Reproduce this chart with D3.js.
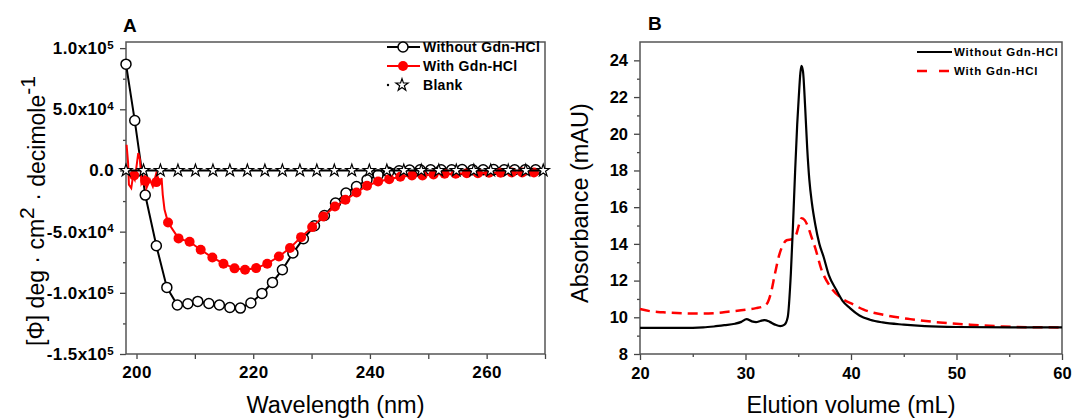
<!DOCTYPE html>
<html>
<head>
<meta charset="utf-8">
<script src="https://cdn.jsdelivr.net/npm/d3@7"></script>
<style>
  html, body { margin: 0; padding: 0; background: #fff; }
  svg { display: block; font-family: "Liberation Sans", Arial, sans-serif; }
  .tick text { font-weight: bold; font-size: 16.5px; fill: #000; }
  .cd .tick text { font-size: 17px; letter-spacing: 0.4px; }
  .domain { display: none; }
  .tick line { stroke: #444; stroke-width: 1.3; }
</style>
</head>
<body>
<svg id="chart" width="1073" height="419"></svg>
<script>
// ---------- Panel A: far-UV CD spectra ----------
const cdWithoutWl = [198.2, 199.7, 201.5, 203.4, 205.2, 207.0, 208.8, 210.5, 212.4, 214.2, 216.0, 217.8, 219.6, 221.5, 223.3, 225.0, 226.8, 228.6, 230.5, 232.2, 234.1, 235.9, 237.7, 239.5, 241.4, 243.2, 245.0, 246.8, 248.6, 250.4, 252.2, 254.0, 255.8, 257.6, 259.4, 261.2, 263.0, 264.8, 266.6, 268.4];
const cdWithoutVal = [86900, 40800, -20100, -61500, -95600, -110000, -108900, -107000, -108700, -110000, -112000, -112500, -108300, -100500, -91500, -81100, -67500, -55800, -45200, -36800, -26600, -18500, -13100, -7600, -3800, -1500, -300, 300, 500, 500, 600, 600, 700, 600, 600, 700, 600, 600, 500, 500];

// noisy low-wavelength part of the denatured trace
const cdWithNoiseWl = [198.3, 198.56, 198.7, 199.1, 199.4, 199.7, 200.3, 200.6, 200.85, 201.4, 201.7, 202.3, 202.8, 203.4, 204.0, 204.3, 204.5, 204.8];
const cdWithNoiseVal = [21000, 6000, -11700, -14400, -4900, -7600, 14200, 8700, -10300, -4900, -14400, -7600, -13100, -2100, -10300, -6200, -19900, -32000];
// symbol points of the denatured trace
const cdWithWl = [199.6, 201.5, 203.4, 205.4, 207.2, 209.1, 211.0, 213.0, 214.9, 216.8, 218.6, 220.5, 222.4, 224.4, 226.3, 228.2, 230.1, 232.0, 234.0, 235.8, 237.7, 239.5, 241.4, 243.3, 245.2, 247.2, 249.0, 250.9, 252.8, 254.7, 256.6, 258.5, 260.4, 262.4, 264.3, 266.1, 268.1];
const cdWithVal = [-4000, -8500, -9500, -42500, -55500, -58300, -64800, -71100, -76200, -80000, -81100, -79800, -76200, -70300, -63400, -54500, -46300, -37600, -29400, -24000, -18000, -12500, -9000, -7100, -5200, -4100, -4100, -3300, -2700, -2700, -2200, -2200, -1900, -1900, -1700, -1700, -1600];

const cdBlankWl = [198.2, 201.2, 204.1, 207.1, 210.1, 213.1, 216.0, 219.0, 222.0, 225.0, 228.0, 230.9, 233.9, 236.9, 239.9, 242.9, 245.8, 248.8, 251.8, 254.8, 257.8, 260.7, 263.7, 266.7, 269.7];
const cdBlankVal = [0, 0, 0, 0, 0, 0, 0, 0, 0, 0, 0, 0, 0, 0, 0, 0, 0, 0, 0, 0, 0, 0, 0, 0, 0];

const cdXTicks = [200, 210, 220, 230, 240, 250, 260, 270];
const cdXLabels = [200, 220, 240, 260];
const cdYTicks = [-150000, -100000, -50000, 0, 50000, 100000];
const cdYMinor = [-125000, -75000, -25000, 25000, 75000];
const cdLegend = ["Without Gdn-HCl", "With Gdn-HCl", "Blank"];

// ---------- Panel B: size-exclusion elution profiles ----------
const secWithoutVol = [20, 22, 24, 26, 27, 28, 29, 29.6, 30.1, 30.6, 31.0, 31.4, 31.8, 32.3, 32.8, 33.3, 33.7, 34.0, 34.3, 34.5, 34.7, 34.9, 35.05, 35.2, 35.3, 35.45, 35.65, 35.85, 36.05, 36.3, 36.6, 37.0, 37.4, 37.9, 38.6, 39.2, 39.9, 40.8, 41.8, 43, 45, 47, 50, 55, 60];
const secWithoutAbs = [9.42, 9.42, 9.42, 9.45, 9.5, 9.57, 9.65, 9.75, 9.9, 9.78, 9.74, 9.8, 9.85, 9.75, 9.6, 9.52, 9.6, 10.0, 12.4, 15.0, 17.9, 20.5, 22.0, 23.3, 23.7, 23.4, 21.5, 19.2, 17.5, 16.2, 15.1, 14.0, 13.3, 12.3, 11.5, 10.9, 10.5, 10.1, 9.87, 9.72, 9.6, 9.52, 9.47, 9.45, 9.45];
const secWithVol = [20, 21, 22.2, 24, 26, 27, 28.5, 30.1, 31, 31.7, 32.1, 32.4, 32.8, 33.2, 33.6, 33.9, 34.4, 34.8, 35.1, 35.3, 35.6, 35.95, 36.3, 36.6, 37.2, 38.0, 39.25, 40.2, 41.15, 43.4, 45.6, 48.4, 51.3, 54.4, 57, 60];
const secWithAbs = [10.45, 10.33, 10.27, 10.22, 10.2, 10.22, 10.31, 10.42, 10.5, 10.6, 10.8, 11.3, 12.4, 13.4, 14.0, 14.2, 14.25, 14.5, 15.1, 15.4, 15.3, 14.9, 14.3, 13.8, 12.6, 11.7, 10.98, 10.7, 10.43, 10.1, 9.9, 9.72, 9.6, 9.5, 9.46, 9.45];

const secXTicks = [20, 30, 40, 50, 60];
const secXMinor = [25, 35, 45, 55];
const secYTicks = [8, 10, 12, 14, 16, 18, 20, 22, 24];
const secYMinor = [9, 11, 13, 15, 17, 19, 21, 23];
const secLegend = ["Without Gdn-HCl", "With Gdn-HCl"];

const svg = d3.select("#chart");
const zip = (xs, ys) => xs.map((x, i) => [x, ys[i]]);
const frameColor = "#555";

// scientific tick text like 1.0x10^5 with a raised exponent
function sciLabel(sel) {
  sel.each(function (d) {
    const t = d3.select(this).text("");
    if (d === 0) { t.text("0.0"); return; }
    const e = Math.floor(Math.log10(Math.abs(d)));
    const m = (d / Math.pow(10, e)).toFixed(1);
    t.append("tspan").text(m + "x10");
    t.append("tspan").attr("dy", "-0.45em").style("font-size", "11.5px").text(e);
  });
}

// ===== Panel A =====
const A = { x0: 126, x1: 545, y0: 42, y1: 354 };
const xA = d3.scaleLinear().domain([198.2, 270]).range([A.x0, A.x1]);
const yA = d3.scaleLinear().domain([-150000, 105000]).range([A.y1, A.y0]);
const gA = svg.append("g").attr("class", "cd");

gA.append("g").attr("transform", `translate(0,${A.y1})`)
  .call(d3.axisBottom(xA).tickValues(cdXTicks).tickSize(5).tickPadding(7)
    .tickFormat(d => cdXLabels.includes(d) ? d : ""));
gA.append("g").attr("transform", `translate(${A.x0},0)`)
  .call(d3.axisLeft(yA).tickValues(cdYTicks).tickSize(6).tickPadding(6))
  .selectAll(".tick text").call(sciLabel);
gA.append("g").attr("transform", `translate(${A.x0},0)`)
  .call(d3.axisLeft(yA).tickValues(cdYMinor).tickSize(3).tickFormat(""));

gA.append("rect").attr("x", A.x0).attr("y", A.y0)
  .attr("width", A.x1 - A.x0).attr("height", A.y1 - A.y0)
  .attr("fill", "none").attr("stroke", frameColor).attr("stroke-width", 1.5);

const lineA = d3.line().x(d => xA(d[0])).y(d => yA(d[1]));
const withoutPts = zip(cdWithoutWl, cdWithoutVal);
const withPts = zip(cdWithWl, cdWithVal);
const withLinePts = zip(cdWithNoiseWl, cdWithNoiseVal).concat(withPts.filter(d => d[0] > 205));
const blankPts = zip(cdBlankWl, cdBlankVal);

gA.append("path").datum(withoutPts).attr("d", lineA)
  .attr("fill", "none").attr("stroke", "#000").attr("stroke-width", 2);
gA.selectAll("circle.wo").data(withoutPts).join("circle").attr("class", "wo")
  .attr("cx", d => xA(d[0])).attr("cy", d => yA(d[1])).attr("r", 5)
  .attr("fill", "#fff").attr("stroke", "#000").attr("stroke-width", 1.5);

gA.append("path").datum(withLinePts).attr("d", lineA)
  .attr("fill", "none").attr("stroke", "#ff0000").attr("stroke-width", 2);
gA.selectAll("circle.wi").data(withPts).join("circle").attr("class", "wi")
  .attr("cx", d => xA(d[0])).attr("cy", d => yA(d[1])).attr("r", 5)
  .attr("fill", "#ff0000");

gA.append("path").datum(blankPts).attr("d", lineA)
  .attr("fill", "none").attr("stroke", "#000").attr("stroke-width", 2);
const star = d3.symbol().type(d3.symbolStar).size(46);
gA.selectAll("path.bl").data(blankPts).join("path").attr("class", "bl")
  .attr("d", star).attr("transform", d => `translate(${xA(d[0])},${yA(d[1])})`)
  .attr("fill", "#fff").attr("stroke", "#000").attr("stroke-width", 1.2);

// legend A
const legA = gA.append("g");
const legRowsA = [47, 66, 85];
legA.append("line").attr("x1", 387).attr("x2", 420).attr("y1", legRowsA[0]).attr("y2", legRowsA[0])
  .attr("stroke", "#000").attr("stroke-width", 2);
legA.append("circle").attr("cx", 403).attr("cy", legRowsA[0]).attr("r", 5)
  .attr("fill", "#fff").attr("stroke", "#000").attr("stroke-width", 1.5);
legA.append("line").attr("x1", 387).attr("x2", 420).attr("y1", legRowsA[1]).attr("y2", legRowsA[1])
  .attr("stroke", "#ff0000").attr("stroke-width", 2);
legA.append("circle").attr("cx", 403).attr("cy", legRowsA[1]).attr("r", 5).attr("fill", "#ff0000");
legA.append("circle").attr("cx", 388).attr("cy", legRowsA[2]).attr("r", 1.2).attr("fill", "#000");
legA.append("path").attr("d", star).attr("transform", `translate(402,${legRowsA[2]})`)
  .attr("fill", "#fff").attr("stroke", "#000").attr("stroke-width", 1.2);
legA.selectAll("text").data(cdLegend).join("text")
  .attr("x", 423).attr("y", (d, i) => legRowsA[i] + 5)
  .style("font-weight", "bold").style("font-size", "14px").style("letter-spacing", "0.3px")
  .text(d => d);

// titles A
svg.append("text").attr("x", 123).attr("y", 32).style("font-weight", "bold").style("font-size", "19px").text("A");
svg.append("text").attr("x", (A.x0 + A.x1) / 2).attr("y", 413).attr("text-anchor", "middle")
  .style("font-size", "23.5px").text("Wavelength (nm)");
const yt = svg.append("text").attr("transform", "translate(44,211) rotate(-90)")
  .attr("text-anchor", "middle").style("font-size", "23px");
yt.append("tspan").text("[Φ]  deg · cm");
yt.append("tspan").attr("dy", "-0.5em").style("font-size", "21px").text("2");
yt.append("tspan").attr("dy", "0.5em").text(" · decimole");
yt.append("tspan").attr("dy", "-0.5em").style("font-size", "21px").text("-1");

// ===== Panel B =====
const B = { x0: 640, x1: 1062, y0: 42, y1: 354 };
const xB = d3.scaleLinear().domain([20, 60]).range([B.x0, B.x1]);
const yB = d3.scaleLinear().domain([8, 25]).range([B.y1, B.y0]);
const gB = svg.append("g");

gB.append("g").attr("transform", `translate(0,${B.y1})`)
  .call(d3.axisBottom(xB).tickValues(secXTicks).tickSize(6).tickPadding(7));
gB.append("g").attr("transform", `translate(0,${B.y1})`)
  .call(d3.axisBottom(xB).tickValues(secXMinor).tickSize(3).tickFormat(""));
gB.append("g").attr("transform", `translate(${B.x0},0)`)
  .call(d3.axisLeft(yB).tickValues(secYTicks).tickSize(6).tickPadding(6));
gB.append("g").attr("transform", `translate(${B.x0},0)`)
  .call(d3.axisLeft(yB).tickValues(secYMinor).tickSize(3).tickFormat(""));

gB.append("rect").attr("x", B.x0).attr("y", B.y0)
  .attr("width", B.x1 - B.x0).attr("height", B.y1 - B.y0)
  .attr("fill", "none").attr("stroke", frameColor).attr("stroke-width", 1.5);

const lineB = d3.line().x(d => xB(d[0])).y(d => yB(d[1])).curve(d3.curveMonotoneX);
gB.append("path").datum(zip(secWithVol, secWithAbs)).attr("d", lineB)
  .attr("fill", "none").attr("stroke", "#ff0000").attr("stroke-width", 2.5)
  .attr("stroke-dasharray", "10,6");
gB.append("path").datum(zip(secWithoutVol, secWithoutAbs)).attr("d", lineB)
  .attr("fill", "none").attr("stroke", "#000").attr("stroke-width", 2.2);

// legend B
const legRowsB = [52, 71];
gB.append("line").attr("x1", 917).attr("x2", 952).attr("y1", legRowsB[0]).attr("y2", legRowsB[0])
  .attr("stroke", "#000").attr("stroke-width", 2.2);
gB.append("line").attr("x1", 917).attr("x2", 952).attr("y1", legRowsB[1]).attr("y2", legRowsB[1])
  .attr("stroke", "#ff0000").attr("stroke-width", 2.5).attr("stroke-dasharray", "10,12");
gB.selectAll("text.lg").data(secLegend).join("text").attr("class", "lg")
  .attr("x", 954).attr("y", (d, i) => legRowsB[i] + 4)
  .style("font-weight", "bold").style("font-size", "11.5px").style("letter-spacing", "0.8px")
  .text(d => d);

// titles B
svg.append("text").attr("x", 648).attr("y", 30).style("font-weight", "bold").style("font-size", "19px").text("B");
svg.append("text").attr("x", (B.x0 + B.x1) / 2).attr("y", 413).attr("text-anchor", "middle")
  .style("font-size", "23.5px").text("Elution volume (mL)");
svg.append("text").attr("transform", "translate(588,203) rotate(-90)").attr("text-anchor", "middle")
  .style("font-size", "23.5px").text("Absorbance (mAU)");
</script>
</body>
</html>
